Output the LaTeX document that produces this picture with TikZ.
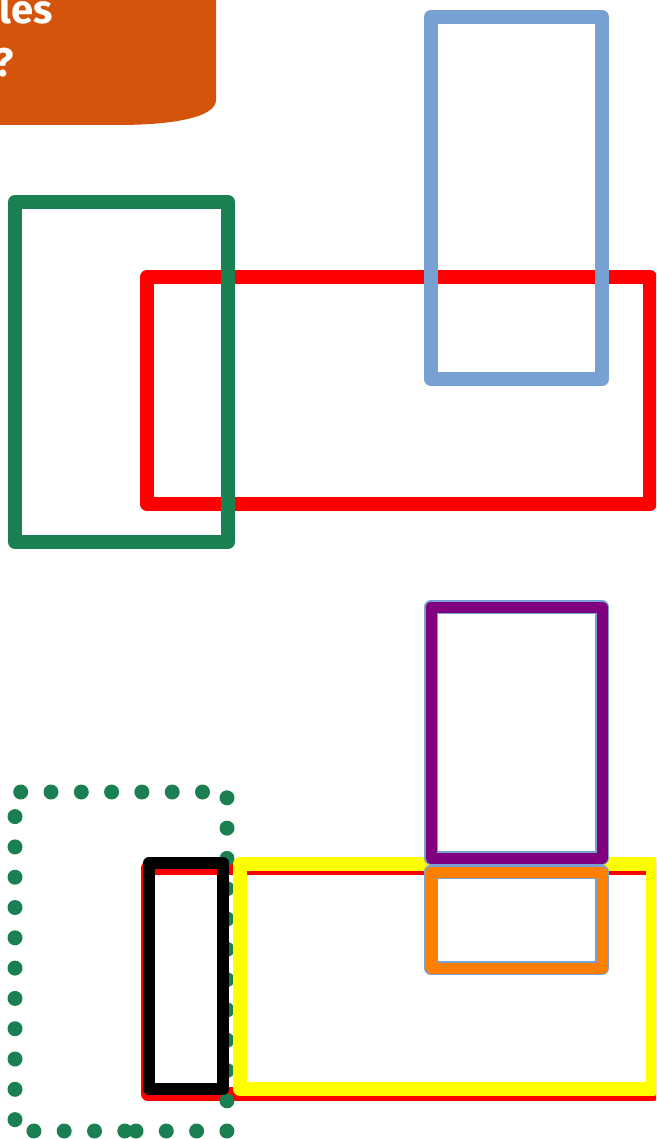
\documentclass[tikz,border=0pt]{standalone}
\usepackage{fontspec}
\setmainfont{Fira Sans}
\definecolor{pumpkin}{RGB}{211,84,10}
\definecolor{framegreen}{RGB}{26,128,82}
\definecolor{frameblue}{RGB}{119,160,211}
\definecolor{framepurple}{RGB}{128,0,128}
\definecolor{frameorange}{RGB}{255,128,0}
\definecolor{frameyellow}{RGB}{255,255,0}
\tikzset{
  frame/.style={line width=14pt, line cap=round, line join=round},
  red frame/.style={frame, draw=red},
  green frame/.style={frame, draw=framegreen},
  blue frame/.style={frame, draw=frameblue},
  purple frame/.style={frame, draw=framepurple, line width=11pt},
  orange frame/.style={frame, draw=frameorange, line width=11pt},
  black frame/.style={frame, draw=black, line width=12pt},
  yellow frame/.style={frame, draw=frameyellow},
  dot frame/.style={draw=framegreen, line width=15pt, line cap=round,
    dash pattern=on 0pt off 30.3pt},
  title/.style={text=white, inner sep=0pt,
    font=\bfseries\fontsize{40}{48}\selectfont}
}

\begin{document}
\begin{tikzpicture}[x=1pt,y=-1pt]
  \useasboundingbox (0,0) rectangle (656,1139);
  \clip (0,0) rectangle (656,1139);

  % title banner
  \fill[pumpkin] (-20,-20) -- (216,-20) -- (216,100)
    .. controls (216,118) and (170,125) .. (118,125) -- (-20,125) -- cycle;
  \node[title, anchor=base east] (line1) at (53,24) {les};
  \node[title, anchor=base east] (line2) at (14,77) {?};

  % upper group
  \draw[red frame] (147,277) rectangle (650,504);
  \draw[green frame] (15,202) rectangle (228,542);
  \draw[blue frame] (431,17) rectangle (602,379);

  % lower group
  \draw[red frame] (148,868) rectangle (653,1094);
  \draw[dot frame] (136,1131) -- (227,1131) -- (227,792) -- (15,792)
    -- (15,1131) -- cycle;
  \draw[black frame] (149,863) rectangle (223,1089);
  \draw[yellow frame] (240,864) rectangle (653,1089);
  \draw[blue frame] (431,607) rectangle (602,858);
  \draw[purple frame] (431,607) rectangle (602,858);
  \draw[blue frame] (431,872) rectangle (602,968);
  \draw[orange frame] (431,872) rectangle (602,968);
\end{tikzpicture}
\end{document}
